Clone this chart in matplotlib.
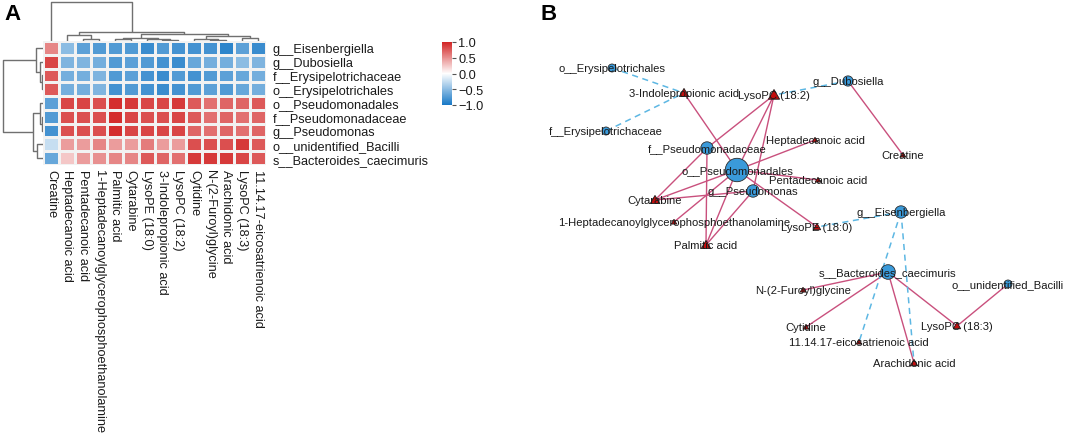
import matplotlib
matplotlib.use('Agg')
import matplotlib.pyplot as plt
import numpy as np
from matplotlib.colors import LinearSegmentedColormap, Normalize
from matplotlib.cm import ScalarMappable
from matplotlib.patches import Circle, RegularPolygon

plt.rcParams['font.family'] = ['Liberation Sans', 'DejaVu Sans']

# ---------------- data ----------------
bacteria = ["g__Eisenbergiella", "g__Dubosiella", "f__Erysipelotrichaceae",
            "o__Erysipelotrichales", "o__Pseudomonadales", "f__Pseudomonadaceae",
            "g__Pseudomonas", "o__unidentified_Bacilli", "s__Bacteroides_caecimuris"]
metabolites = ["Creatine", "Heptadecanoic acid", "Pentadecanoic acid",
               "1-Heptadecanoylglycerophosphoethanolamine", "Palmitic acid", "Cytarabine",
               "LysoPE (18:0)", "3-Indolepropionic acid", "LysoPC (18:2)", "Cytidine",
               "N-(2-Furoyl)glycine", "Arachidonic acid", "LysoPC (18:3)",
               "11.14.17-eicosatrienoic acid"]
corr = np.array([
    [0.55, -0.50, -0.70, -0.75, -0.75, -0.75, -0.85, -0.75, -0.80, -0.80, -0.80, -0.90, -0.70, -0.85],
    [0.85, -0.55, -0.55, -0.60, -0.75, -0.70, -0.75, -0.80, -0.85, -0.65, -0.60, -0.60, -0.50, -0.55],
    [0.75, -0.60, -0.60, -0.55, -0.75, -0.70, -0.80, -0.85, -0.75, -0.80, -0.75, -0.70, -0.65, -0.60],
    [0.75, -0.60, -0.60, -0.55, -0.80, -0.75, -0.80, -0.85, -0.80, -0.75, -0.70, -0.75, -0.65, -0.60],
    [-0.70, 0.85, 0.85, 0.80, 0.95, 0.90, 0.85, 0.85, 0.90, 0.75, 0.65, 0.70, 0.70, 0.75],
    [-0.75, 0.80, 0.80, 0.80, 0.95, 0.85, 0.80, 0.80, 0.85, 0.75, 0.65, 0.70, 0.65, 0.70],
    [-0.80, 0.80, 0.80, 0.80, 0.95, 0.85, 0.85, 0.85, 0.85, 0.70, 0.65, 0.70, 0.65, 0.70],
    [-0.25, 0.45, 0.45, 0.55, 0.45, 0.45, 0.60, 0.45, 0.45, 0.80, 0.80, 0.80, 0.90, 0.75],
    [-0.65, 0.25, 0.45, 0.50, 0.55, 0.55, 0.75, 0.70, 0.65, 0.90, 0.90, 0.90, 0.85, 0.75],
])
# dendrograms: (left, right, height); leaves are row/column indices
row_tree = ((0, (1, (2, 3, 1.5), 3.0), 7.0), ((4, (5, 6, 1.5), 3.0), (7, 8, 6.5), 10.0), 40.3)
col_tree = (0, ((1, (2, 3, 2.0), 6.0),
                (((4, 5, 2.0), (6, (7, 8, 1.5), 2.5), 3.0),
                 ((9, (10, 11, 1.5), 2.5), (12, 13, 3.0), 5.0), 7.3), 8.7), 39.3)

# network
net_bacteria = ["o__Erysipelotrichales", "f__Erysipelotrichaceae", "f__Pseudomonadaceae",
                "o__Pseudomonadales", "g__Pseudomonas", "g__Dubosiella", "g__Eisenbergiella",
                "s__Bacteroides_caecimuris", "o__unidentified_Bacilli"]
net_metabolites = ["3-Indolepropionic acid", "LysoPC (18:2)", "Heptadecanoic acid",
                   "Pentadecanoic acid", "Creatine", "Cytarabine",
                   "1-Heptadecanoylglycerophosphoethanolamine", "Palmitic acid", "LysoPE (18:0)",
                   "N-(2-Furoyl)glycine", "Cytidine", "11.14.17-eicosatrienoic acid",
                   "LysoPC (18:3)", "Arachidonic acid"]
pos_edges = [
    ("o__Pseudomonadales", "3-Indolepropionic acid"), ("o__Pseudomonadales", "LysoPC (18:2)"),
    ("o__Pseudomonadales", "Heptadecanoic acid"), ("o__Pseudomonadales", "Pentadecanoic acid"),
    ("o__Pseudomonadales", "Cytarabine"), ("o__Pseudomonadales", "1-Heptadecanoylglycerophosphoethanolamine"),
    ("o__Pseudomonadales", "Palmitic acid"), ("o__Pseudomonadales", "LysoPE (18:0)"),
    ("f__Pseudomonadaceae", "LysoPC (18:2)"), ("f__Pseudomonadaceae", "Cytarabine"),
    ("f__Pseudomonadaceae", "Palmitic acid"),
    ("g__Pseudomonas", "LysoPC (18:2)"), ("g__Pseudomonas", "Cytarabine"),
    ("g__Pseudomonas", "Palmitic acid"),
    ("g__Dubosiella", "Creatine"),
    ("s__Bacteroides_caecimuris", "N-(2-Furoyl)glycine"), ("s__Bacteroides_caecimuris", "Cytidine"),
    ("s__Bacteroides_caecimuris", "Arachidonic acid"), ("s__Bacteroides_caecimuris", "LysoPC (18:3)"),
    ("o__unidentified_Bacilli", "LysoPC (18:3)"),
]
neg_edges = [
    ("o__Erysipelotrichales", "3-Indolepropionic acid"), ("f__Erysipelotrichaceae", "3-Indolepropionic acid"),
    ("g__Dubosiella", "LysoPC (18:2)"), ("g__Eisenbergiella", "LysoPE (18:0)"),
    ("g__Eisenbergiella", "11.14.17-eicosatrienoic acid"), ("g__Eisenbergiella", "Arachidonic acid"),
]

# layout of the network (pixel space of the figure)
layout = {
    "o__Erysipelotrichales": (612, 69), "f__Erysipelotrichaceae": (606, 132),
    "f__Pseudomonadaceae": (707, 149), "o__Pseudomonadales": (737, 171),
    "g__Pseudomonas": (753, 192), "g__Dubosiella": (848, 82),
    "g__Eisenbergiella": (901, 213), "s__Bacteroides_caecimuris": (888, 273),
    "o__unidentified_Bacilli": (1008, 285),
    "3-Indolepropionic acid": (684, 94), "LysoPC (18:2)": (774, 96),
    "Heptadecanoic acid": (815, 141), "Pentadecanoic acid": (818, 181),
    "Creatine": (903, 156), "Cytarabine": (655, 201),
    "1-Heptadecanoylglycerophosphoethanolamine": (674, 223), "Palmitic acid": (706, 246),
    "LysoPE (18:0)": (817, 228), "N-(2-Furoyl)glycine": (803, 291),
    "Cytidine": (806, 328), "11.14.17-eicosatrienoic acid": (859, 343),
    "LysoPC (18:3)": (957, 327), "Arachidonic acid": (914, 364),
}

# ---------------- figure ----------------
W, H = 1065, 435
fig = plt.figure(figsize=(W / 100, H / 100), dpi=100)


def frac(x0, y0, x1, y1):
    return [x0 / W, 1 - y1 / H, (x1 - x0) / W, (y1 - y0) / H]


cmap = LinearSegmentedColormap.from_list("bwr_ph", ["#1778C6", "#FFFFFF", "#D22424"])
FS = 9.2
FS_NET = 8.1

# heatmap
ax_hm = fig.add_axes(frac(43, 42, 266, 166))
ax_hm.pcolormesh(corr, cmap=cmap, vmin=-1, vmax=1, edgecolors="#F2F2F2", linewidth=0.9)
ax_hm.set_xlim(0, len(metabolites))
ax_hm.set_ylim(len(bacteria), 0)
ax_hm.set_xticks(np.arange(len(metabolites)) + 0.5)
ax_hm.set_xticklabels(metabolites, rotation=-90, ha="center", va="top", fontsize=FS, color="#1a1a1a")
ax_hm.yaxis.tick_right()
ax_hm.set_yticks(np.arange(len(bacteria)) + 0.5)
ax_hm.set_yticklabels(bacteria, fontsize=FS, color="#1a1a1a")
ax_hm.tick_params(length=0, pad=3)
ax_hm.tick_params(axis="y", pad=5)
for s in ax_hm.spines.values():
    s.set_visible(False)


def draw_tree(ax, node, orient):
    """returns (position, height) of node; draws U-shapes"""
    if isinstance(node, int):
        return node + 0.5, 0.0
    l, r, h = node
    pl, hl = draw_tree(ax, l, orient)
    pr, hr = draw_tree(ax, r, orient)
    ps = [pl, pl, pr, pr]
    hs = [hl, h, h, hr]
    if orient == "top":
        ax.plot(ps, hs, color="#707070", lw=1.0, solid_capstyle="butt")
    else:
        ax.plot(hs, ps, color="#707070", lw=1.0, solid_capstyle="butt")
    return (pl + pr) / 2, h


ax_cd = fig.add_axes(frac(43, 2, 266, 42))
draw_tree(ax_cd, col_tree, "top")
ax_cd.set_xlim(0, len(metabolites))
ax_cd.set_ylim(0, 40)
ax_cd.axis("off")

ax_rd = fig.add_axes(frac(2, 42, 43, 166))
draw_tree(ax_rd, row_tree, "left")
ax_rd.set_xlim(41, 0)
ax_rd.set_ylim(len(bacteria), 0)
ax_rd.axis("off")

# colorbar
ax_cb = fig.add_axes(frac(442, 43, 452, 106))
cb = fig.colorbar(ScalarMappable(norm=Normalize(-1, 1), cmap=cmap), cax=ax_cb)
cb.outline.set_visible(False)
cb.set_ticks([-1.0, -0.5, 0.0, 0.5, 1.0])
cb.ax.tick_params(labelsize=FS, length=3, width=0.8, color="#555555", pad=1.5, labelcolor="#1a1a1a")

# panel letters
fig.text(4 / W, 1 - 15 / H, "A", fontsize=16, fontweight="bold", va="center", ha="left")
fig.text(540 / W, 1 - 15 / H, "B", fontsize=16, fontweight="bold", va="center", ha="left")

# network
ax_net = fig.add_axes([540 / W, 0, (W - 540) / W, 1])
ax_net.set_xlim(540, W)
ax_net.set_ylim(H, 0)
ax_net.axis("off")

degree = {n: 0 for n in net_bacteria + net_metabolites}
for a, b in pos_edges + neg_edges:
    degree[a] += 1
    degree[b] += 1

for a, b in pos_edges:
    (x1, y1), (x2, y2) = layout[a], layout[b]
    ax_net.plot([x1, x2], [y1, y2], color="#C9507D", lw=1.0, zorder=1)
for a, b in neg_edges:
    (x1, y1), (x2, y2) = layout[a], layout[b]
    ax_net.plot([x1, x2], [y1, y2], color="#5DB7E3", lw=1.1, ls=(0, (4, 3)), zorder=1)

for n in net_bacteria:
    x, y = layout[n]
    r = 2.9 + 1.1 * degree[n]
    ax_net.add_patch(Circle((x, y), r, facecolor="#3A9ADA", edgecolor="#2b2b2b", lw=0.6, zorder=3))
for n in net_metabolites:
    x, y = layout[n]
    R = 2.1 + 1.1 * degree[n]
    ax_net.add_patch(RegularPolygon((x, y + R * 0.15), 3, radius=R, orientation=np.pi,
                                    facecolor="#C20E0E", edgecolor="#1a1a1a", lw=0.6, zorder=3))
for n in net_bacteria + net_metabolites:
    x, y = layout[n]
    ax_net.text(x, y, n, fontsize=FS_NET, ha="center", va="center", color="#1a1a1a", zorder=5)

fig.savefig("out.png", dpi=100)
